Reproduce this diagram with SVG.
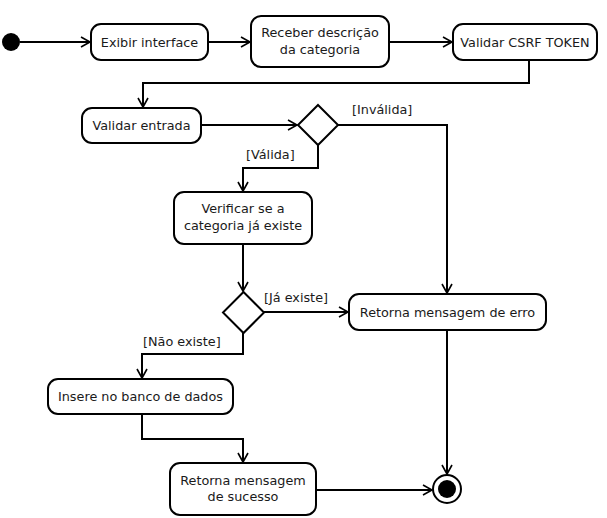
<svg xmlns="http://www.w3.org/2000/svg" width="607" height="518" viewBox="0 0 607 518">
<defs>
<style>
.box{fill:#fff;stroke:#000;stroke-width:2}
.dia{fill:#fff;stroke:#000;stroke-width:2}
.t{font-family:"DejaVu Sans",sans-serif;font-size:12.8px;fill:#1a1a1a;text-anchor:middle}
.l{font-family:"DejaVu Sans",sans-serif;font-size:12.8px;fill:#1a1a1a}
.c{fill:none;stroke:#000;stroke-width:2;marker-end:url(#arr)}
.n{fill:none;stroke:#000;stroke-width:2}
</style>
<marker id="arr" markerUnits="userSpaceOnUse" markerWidth="14" markerHeight="14" refX="10" refY="6" orient="auto">
<path d="M1,1 L10,6 L1,11" fill="none" stroke="#000" stroke-width="1.6"/>
</marker>
</defs>
<rect width="607" height="518" fill="#fff"/>
<g id="connectors">
<path class="c" d="M20,42 H90"/>
<path class="c" d="M208,42 H250"/>
<path class="c" d="M389,42 H452"/>
<path class="c" d="M529,60 V83 H143 V107"/>
<path class="c" d="M201,125 H297"/>
<path class="c" d="M338,125 H447 V293"/>
<path class="c" d="M318,145 V168 H243 V191"/>
<path class="c" d="M243,244 V291"/>
<path class="c" d="M264,312 H348"/>
<path class="c" d="M243,333 V354 H142 V378"/>
<path class="c" d="M142,414 V439 H243 V462"/>
<path class="c" d="M316,490 H432"/>
<path class="c" d="M447,330 V474"/>
<text class="l" x="352" y="114">[Inválida]</text>
<text class="l" x="246" y="159">[Válida]</text>
<text class="l" x="264" y="302">[Já existe]</text>
<text class="l" x="143" y="346">[Não existe]</text>
</g>
<g id="start"><circle cx="11" cy="42" r="9" fill="#000"/></g>
<g id="exibir"><rect class="box" x="91" y="24" width="117" height="36" rx="10"/><text class="t" x="149.5" y="46.5">Exibir interface</text></g>
<g id="receber"><rect class="box" x="251" y="16" width="138" height="51" rx="10"/><text class="t" x="320" y="37">Receber descrição</text><text class="t" x="320" y="54">da categoria</text></g>
<g id="csrf"><rect class="box" x="453" y="24" width="144" height="36" rx="10"/><text class="t" x="525" y="46.5">Validar CSRF TOKEN</text></g>
<g id="validar"><rect class="box" x="82" y="108" width="119" height="35" rx="10"/><text class="t" x="141.5" y="130">Validar entrada</text></g>
<g id="decisao1"><polygon class="dia" points="318,105 338,125 318,145 298,125"/></g>
<g id="verificar"><rect class="box" x="174" y="192" width="138" height="52" rx="10"/><text class="t" x="243" y="213">Verificar se a</text><text class="t" x="243" y="230">categoria já existe</text></g>
<g id="decisao2"><polygon class="dia" points="243.5,292 264,312.5 243.5,333 223,312.5"/></g>
<g id="erro"><rect class="box" x="349" y="294" width="197" height="36" rx="10"/><text class="t" x="447.5" y="316.5">Retorna mensagem de erro</text></g>
<g id="insere"><rect class="box" x="48" y="379" width="185" height="35" rx="10"/><text class="t" x="140.5" y="401">Insere no banco de dados</text></g>
<g id="sucesso"><rect class="box" x="170" y="463" width="146" height="52" rx="10"/><text class="t" x="243" y="485">Retorna mensagem</text><text class="t" x="243" y="501">de sucesso</text></g>
<g id="fim"><circle cx="447" cy="489" r="14" fill="#fff" stroke="#000" stroke-width="2"/><circle cx="447" cy="489" r="9" fill="#000"/></g>
</svg>
